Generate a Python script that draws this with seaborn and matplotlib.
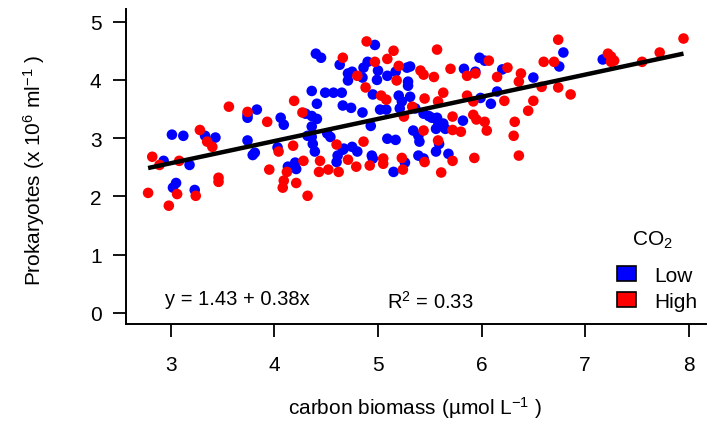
import matplotlib
matplotlib.use("Agg")
import matplotlib.pyplot as plt
import seaborn as sns
import pandas as pd
import numpy as np
from matplotlib.patches import Patch

# ---- data ----
low_x = [3.01, 3.12, 2.93, 3.18, 3.05, 3.02, 3.23, 3.33, 3.43, 3.74, 3.74, 3.83, 4.06, 4.09,
         4.36, 4.41, 4.30, 4.36, 4.41, 4.36, 4.32, 4.36, 4.37, 4.39, 4.03, 3.74, 3.81, 3.79,
         4.13, 4.20, 4.21, 4.40, 4.45, 4.63, 4.49, 4.57, 4.65, 4.66, 4.61, 4.60, 4.97, 4.90,
         4.86, 5.00, 5.17, 4.71, 4.75, 4.71, 4.85, 4.99, 5.09, 5.28, 5.29, 4.95, 5.20, 5.23,
         4.66, 4.74, 5.02, 5.08, 5.21, 4.85, 4.93, 4.51, 4.54, 5.09, 5.17, 4.67, 4.75, 4.80,
         4.94, 4.95, 5.26, 5.15, 5.31, 5.29, 5.31, 5.83, 5.94, 5.98, 6.03, 5.99, 6.09, 5.36,
         5.44, 5.49, 5.52, 5.57, 5.82, 5.58, 5.63, 5.65, 5.56, 5.34, 5.39, 5.40, 5.59, 5.56,
         5.39, 5.44, 5.68, 6.79, 6.75, 6.20, 6.50, 6.15, 7.17]
low_y = [3.06, 3.04, 2.61, 2.54, 2.23, 2.15, 2.11, 3.04, 3.01, 3.40, 3.35, 3.49, 3.35, 3.23,
         3.81, 3.59, 3.42, 3.38, 3.33, 3.20, 3.04, 3.02, 2.90, 2.77, 2.84, 2.96, 2.75, 2.71,
         2.51, 2.58, 2.47, 4.45, 4.38, 4.26, 3.78, 3.78, 3.78, 2.80, 2.70, 2.59, 4.60, 4.31,
         4.21, 4.16, 4.14, 4.11, 4.14, 3.99, 4.04, 4.00, 4.07, 4.21, 3.90, 3.75, 3.73, 3.63,
         3.56, 3.52, 3.49, 3.49, 3.51, 3.44, 3.21, 3.08, 3.02, 2.99, 2.97, 2.82, 2.85, 2.77,
         2.70, 2.65, 2.58, 2.42, 4.23, 3.97, 3.71, 4.19, 4.14, 4.38, 4.33, 3.69, 3.59, 3.51,
         3.42, 3.38, 3.35, 3.35, 3.30, 3.28, 3.25, 3.16, 3.16, 3.13, 3.04, 2.94, 2.90, 2.77,
         2.70, 2.65, 2.73, 4.47, 4.23, 4.18, 4.04, 3.80, 4.35]

high_x = [2.78, 2.82, 2.89, 3.08, 3.06, 3.24, 2.98, 3.28, 3.35, 3.40, 3.46, 3.46, 3.56, 3.74,
          3.93, 4.19, 4.27, 4.18, 4.04, 4.28, 4.44, 4.43, 4.12, 3.95, 4.09, 4.08, 4.21, 4.32,
          4.66, 4.60, 4.71, 4.79, 4.52, 4.62, 4.89, 4.97, 5.15, 5.09, 5.20, 5.18, 4.80, 4.88,
          5.03, 5.08, 5.25, 4.86, 4.92, 5.05, 5.05, 5.23, 5.24, 5.57, 5.41, 5.44, 5.54, 5.70,
          5.86, 5.94, 6.07, 5.63, 5.45, 5.58, 5.86, 5.92, 5.33, 5.72, 5.92, 5.95, 6.03, 6.05,
          5.80, 5.72, 5.44, 5.58, 5.45, 5.72, 5.93, 5.61, 6.74, 6.60, 6.70, 6.25, 6.15, 6.38,
          6.36, 6.58, 6.74, 6.86, 6.22, 6.50, 6.45, 6.32, 6.31, 6.36, 7.95, 7.22, 7.25, 7.28,
          7.25, 7.55, 7.72]
high_y = [2.06, 2.68, 2.54, 2.61, 2.04, 2.01, 1.84, 3.14, 2.94, 2.85, 2.32, 2.25, 3.54, 3.45,
          3.28, 3.64, 3.44, 2.87, 2.77, 2.61, 2.61, 2.42, 2.42, 2.46, 2.27, 2.15, 2.23, 2.01,
          4.38, 2.89, 2.63, 2.51, 2.46, 2.42, 4.66, 4.31, 4.50, 4.36, 4.24, 3.99, 4.07, 3.87,
          3.73, 3.66, 3.37, 2.94, 2.53, 2.65, 2.56, 2.66, 2.46, 4.52, 4.16, 4.09, 4.05, 4.19,
          4.07, 4.11, 4.33, 3.78, 3.68, 3.63, 3.73, 3.63, 3.54, 3.37, 3.40, 3.32, 3.28, 3.13,
          3.11, 3.14, 3.13, 2.96, 2.59, 2.61, 2.66, 2.41, 4.69, 4.31, 4.31, 4.21, 4.05, 4.11,
          3.97, 3.88, 3.87, 3.75, 3.64, 3.64, 3.47, 3.28, 3.04, 2.70, 4.71, 4.45, 4.40, 4.33,
          4.31, 4.31, 4.47]

groups = ["Low", "High"]
colors = ["#0000FF", "#FF0000"]
intercept, slope, r2 = 1.43, 0.38, 0.33
x_ticks = [3, 4, 5, 6, 7, 8]
y_ticks = [0, 1, 2, 3, 4, 5]

df = pd.DataFrame({
    "biomass": low_x + high_x,
    "prok": low_y + high_y,
    "CO2": ["Low"] * len(low_x) + ["High"] * len(high_x),
})

# ---- styling ----
sns.set_style("ticks")
plt.rcParams["font.family"] = ["Liberation Sans", "DejaVu Sans"]
plt.rcParams["mathtext.fontset"] = "custom"
plt.rcParams["mathtext.rm"] = "Liberation Sans"
plt.rcParams["mathtext.it"] = "Liberation Sans:italic"
plt.rcParams["text.color"] = "black"
plt.rcParams["axes.labelcolor"] = "black"

fig = plt.figure(figsize=(7.07, 4.27), dpi=100)
ax = fig.add_axes([0.178, 0.239, 0.821, 0.738])

sns.scatterplot(data=df, x="biomass", y="prok", hue="CO2", hue_order=groups,
                palette=dict(zip(groups, colors)), s=58, linewidth=0, alpha=1,
                legend=False, ax=ax, zorder=2)

xs = np.array([min(df["biomass"]), max(df["biomass"])])
ax.plot(xs, intercept + slope * xs, color="black", lw=3.2, zorder=3,
        solid_capstyle="butt")

ax.set_xlim(2.565, 8.17)
ax.set_ylim(-0.19, 5.22)
ax.set_xticks(x_ticks)
ax.set_yticks(y_ticks)
for s in ["top", "right"]:
    ax.spines[s].set_visible(False)
for s in ["left", "bottom"]:
    ax.spines[s].set_linewidth(1.4)
    ax.spines[s].set_color("black")
ax.tick_params(axis="both", direction="out", length=9.5, width=1.3,
               labelsize=15, colors="black")
ax.tick_params(axis="x", pad=13)
ax.tick_params(axis="y", pad=8)

ax.set_xlabel("carbon biomass (µmol L$^{-1}$ )", fontsize=15)
ax.set_ylabel("Prokaryotes (x 10$^{6}$ ml$^{-1}$ )", fontsize=15)
ax.xaxis.set_label_coords(0.498, -0.222)
ax.yaxis.set_label_coords(-0.136, 0.49)

ax.text(3.64, 0.24, "y = 1.43 + 0.38x", fontsize=14.5, ha="center", va="center")
ax.text(5.50, 0.21, "R$^{2}$ = 0.33", fontsize=14.5, ha="center", va="center")

# legend title drawn separately for exact spacing
ax.text(0.907, 0.251, "CO$_{2}$", transform=ax.transAxes, fontsize=15,
        ha="center", va="baseline")
handles = [Patch(facecolor=c, edgecolor="black", linewidth=1.2) for c in colors]
leg = ax.legend(handles, groups, loc="upper left",
                bbox_to_anchor=(0.847, 0.184), frameon=False, fontsize=15,
                handlelength=0.9, handleheight=0.72,
                handletextpad=0.85, labelspacing=0.32, borderpad=0,
                borderaxespad=0)

fig.savefig("out.png", dpi=100)
